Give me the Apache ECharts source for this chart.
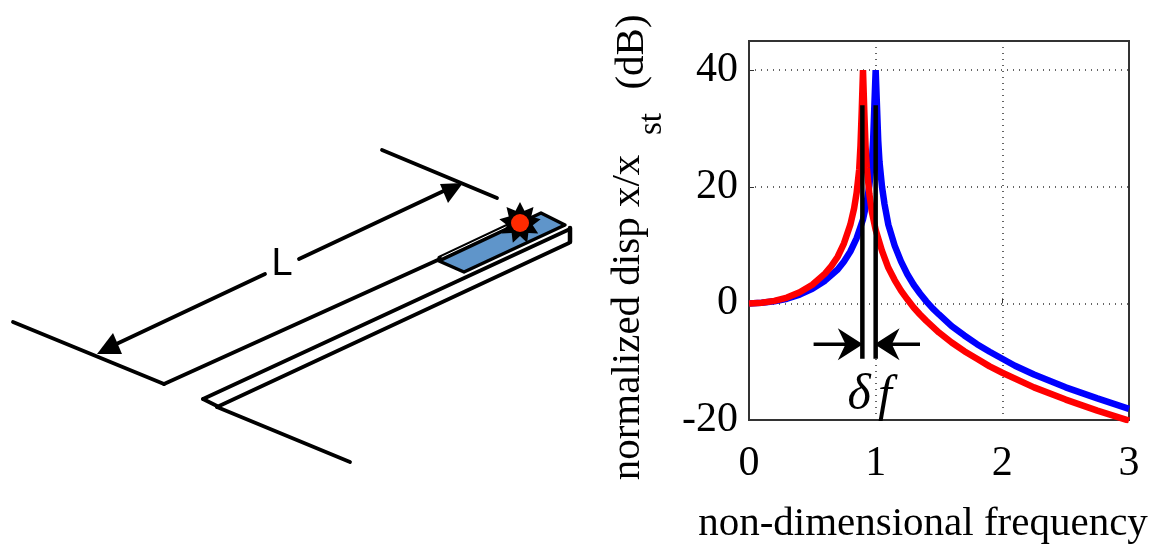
<!DOCTYPE html>
<html><head><meta charset="utf-8">
<style>html,body{margin:0;padding:0;background:#fff}#c{width:1155px;height:544px}</style>
<script src="https://cdn.jsdelivr.net/npm/echarts@6/dist/echarts.min.js"></script>
</head><body><div id="c"></div>
<script>
const blueFreq = [0,0.1,0.2,0.3,0.4,0.5,0.6,0.7,0.75,0.8,0.85,0.9,0.93,0.95,0.97,0.98,0.99,1,1.01,1.02,1.03,1.05,1.07,1.1,1.15,1.2,1.25,1.3,1.35,1.4,1.45,1.5,1.6,1.7,1.8,1.9,2,2.1,2.25,2.5,2.75,3];
const blueDb = [0,0.1,0.35,0.8,1.5,2.5,3.9,5.8,7.2,8.9,11.2,14.4,17.4,20.2,24.3,28,34,40,34,28,24.3,20,17,13.5,9.9,7.2,5,3.2,1.7,0.35,-0.85,-1.9,-3.9,-5.5,-7,-8.3,-9.5,-10.7,-12.2,-14.4,-16.3,-18.1];
const redFreq = [0,0.1,0.2,0.3,0.4,0.5,0.6,0.65,0.7,0.75,0.8,0.83,0.85,0.87,0.88,0.89,0.9,0.91,0.92,0.93,0.95,0.97,1,1.05,1.1,1.15,1.2,1.25,1.3,1.35,1.4,1.5,1.6,1.7,1.8,1.9,2,2.25,2.5,2.75,3];
const redDb = [0,0.1,0.43,1,1.9,3.2,5.1,6.4,8,10.3,13.5,16.3,19,23,27,33,40,33,27,23.3,18.8,15.7,12.6,9,6.1,4,2.2,0.7,-0.7,-1.9,-3,-5,-6.7,-8.2,-9.5,-10.8,-11.9,-14.4,-16.5,-18.4,-20.1];
const xTicks = [0,1,2,3];
const yTicks = [-20,0,20,40];
const xTitle = 'non-dimensional frequency';
const yTitle = 'normalized disp x/x';
const serif = '"Liberation Serif", serif';
const zip = (a,b)=>a.map((v,i)=>[v,b[i]]);

const line = (x1,y1,x2,y2,w,c)=>({type:'line',silent:true,shape:{x1,y1,x2,y2},style:{stroke:c||'#000',lineWidth:w||3.8,lineCap:'round'}});
const starPts = [];
for(let i=0;i<18;i++){const a=-Math.PI/2+i*Math.PI/9,r=i%2?13:21;starPts.push([520+r*Math.cos(a),223+r*Math.sin(a)]);}

const graphic = [
  line(382,150,497,198), line(13,322,164,384),
  line(164,384,440,259), line(203,399,570,229), line(217,407,569,243),
  line(203,399,217,406), line(217,407,350,462), line(570,228,570,242,4.5),
  line(299,259,450,188), line(265,274,110,347),
  {type:'polygon',silent:true,shape:{points:[[463,183],[440,184],[448,203]]},style:{fill:'#000'}},
  {type:'polygon',silent:true,shape:{points:[[97,354],[113,333],[122,354]]},style:{fill:'#000'}},
  {type:'polygon',silent:true,shape:{points:[[439,261],[464,272],[565,225],[541,213]]},style:{fill:'#5f95ca',stroke:'#000',lineWidth:3.4,lineJoin:'round'}},
  line(440,258,512,224,5), line(442,257,510,225,1,'#fff'),
  {type:'polygon',silent:true,shape:{points:starPts},style:{fill:'#000'}},
  {type:'circle',silent:true,shape:{cx:520,cy:223,r:9},style:{fill:'#ff2a00'}},
  {type:'text',silent:true,style:{x:282,y:265,text:'L',font:'38px "Liberation Sans", sans-serif',fill:'#000',align:'center',verticalAlign:'middle'}},
  {type:'text',silent:true,x:652,y:124,rotation:Math.PI/2,style:{x:0,y:0,text:'st',font:'33px '+serif,fill:'#000',align:'center',verticalAlign:'middle'}},
  {type:'text',silent:true,x:632,y:52,rotation:Math.PI/2,style:{x:0,y:0,text:'(dB)',font:'41px '+serif,fill:'#000',align:'center',verticalAlign:'middle'}},
  {type:'text',silent:true,style:{x:859,y:396,text:'δ',font:'italic 50px '+serif,fill:'#000',align:'center',verticalAlign:'middle'}},
  {type:'text',silent:true,style:{x:885,y:397,text:'f',font:'italic 50px '+serif,fill:'#000',align:'center',verticalAlign:'middle'}}
];

const arrow = 'path://M5,0 L10,13 L5,9 L0,13 Z';
const blackLine = (data,extra)=>Object.assign({type:'line',data,showSymbol:false,symbol:'none',silent:true,animation:false,z:5,itemStyle:{color:'#000'},lineStyle:{color:'#000',width:4.5,cap:'butt'}},extra||{});

const chart = echarts.init(document.getElementById('c'),null,{renderer:'canvas'});
chart.setOption({
  animation:false,
  backgroundColor:'#fff',
  grid:{left:749,right:26,top:41,bottom:124,outerBoundsMode:'none',show:true,borderColor:'#333',borderWidth:2,backgroundColor:'transparent'},
  xAxis:{type:'value',min:0,max:3,interval:1,
    name:xTitle,nameLocation:'middle',nameGap:84,
    nameTextStyle:{fontFamily:serif,fontSize:41,color:'#000',padding:[0,32,0,0]},
    axisLine:{show:false},axisTick:{show:true,inside:true,length:5,lineStyle:{color:'#333'}},
    axisLabel:{fontFamily:serif,fontSize:42,color:'#000',margin:23,formatter:v=>xTicks.includes(v)?String(v):''},
    splitLine:{show:true,showMinLine:false,showMaxLine:false,lineStyle:{color:'#333',type:[1,5],width:1.5}}},
  yAxis:{type:'value',min:-20,max:45,interval:20,
    name:yTitle,nameLocation:'middle',nameGap:100,nameRotate:90,
    nameTextStyle:{fontFamily:serif,fontSize:41,color:'#000',padding:[0,174,0,0]},
    axisLine:{show:false},axisTick:{show:true,inside:true,length:5,lineStyle:{color:'#333'}},
    axisLabel:{fontFamily:serif,fontSize:42,color:'#000',margin:11,showMaxLabel:false,formatter:v=>yTicks.includes(v)?String(v):''},
    splitLine:{show:true,showMinLine:false,showMaxLine:false,lineStyle:{color:'#333',type:[1,5],width:1.5}}},
  graphic:{elements:graphic},
  series:[
    {name:'blue',type:'line',data:zip(blueFreq,blueDb),showSymbol:false,symbol:'none',silent:true,lineStyle:{color:'#0000ff',width:6.5},z:3},
    {name:'red',type:'line',data:zip(redFreq,redDb),showSymbol:false,symbol:'none',silent:true,lineStyle:{color:'#ff0000',width:6.5},z:4},
    blackLine([[0.895,34],[0.895,-9.5]]),
    blackLine([[1,34],[1,-9.5]]),
    blackLine([],{symbol:arrow,symbolSize:[32,25],showSymbol:true,
      symbolRotate:-90,lineStyle:{color:'#000',width:3.5},
      data:[{value:[0.51,-7],symbol:'none'},{value:[0.8,-7]},{value:[0.87,-7],symbol:'none'}]}),
    blackLine([],{symbol:arrow,symbolSize:[32,25],showSymbol:true,
      symbolRotate:90,lineStyle:{color:'#000',width:3.5},
      data:[{value:[1.35,-7],symbol:'none'},{value:[1.09,-7]},{value:[1.03,-7],symbol:'none'}]})
  ]
});
</script></body></html>
